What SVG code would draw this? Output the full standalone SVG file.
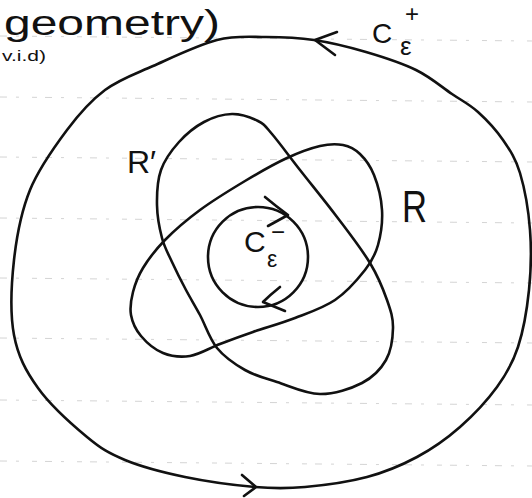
<svg xmlns="http://www.w3.org/2000/svg" width="532" height="498" viewBox="0 0 532 498">
<style>
.rule{stroke:#a0a0a0;stroke-width:1;stroke-dasharray:7 9 3 13 5 8;opacity:.45;fill:none}
.ink{fill:none;stroke:#111;stroke-width:2.6;stroke-linecap:round;stroke-linejoin:round}
.lab{font-family:"Liberation Sans",Arial,sans-serif;fill:#111}
</style>
<rect width="532" height="498" fill="#fff"/>
<g id="ruled-lines">
<line class="rule" x1="0" y1="36" x2="532" y2="41"/>
<line class="rule" x1="0" y1="97" x2="532" y2="102"/>
<line class="rule" x1="0" y1="157" x2="532" y2="162"/>
<line class="rule" x1="0" y1="218" x2="532" y2="223"/>
<line class="rule" x1="0" y1="278" x2="532" y2="283"/>
<line class="rule" x1="0" y1="338" x2="532" y2="343"/>
<line class="rule" x1="0" y1="400" x2="532" y2="405"/>
<line class="rule" x1="0" y1="461" x2="532" y2="466"/>
</g>
<g id="title">
<text class="lab" x="4" y="35" font-size="35" textLength="216" lengthAdjust="spacingAndGlyphs">geometry)</text>
<text class="lab" x="2" y="61" font-size="15" textLength="44" lengthAdjust="spacingAndGlyphs">v.i.d)</text>
</g>
<g id="C-plus">
<path class="ink" d="M314,40 C297.3,37.5 282.2,37 266,37 S235.8,35.2 217,40 S171.7,57.7 153,66 S119.3,79.3 105,90 S79.5,113.3 67,130 S38.8,168.3 30,190 S16.7,235.8 14,260 S10,313.7 14,335 S25.8,371 38,388 S72.5,425 87,437 S108.7,453.3 125,460 S163.3,472.5 185,477 S235,485.3 255,487 S286.3,488.7 305,487 S348.3,482 367,477 S401.5,465.3 417,457 S446.7,438.7 460,427 S487.3,400.3 497,387 S512.7,363.2 518,347 S527,309.5 529,290 S531.5,249.5 530,230 S524.5,188 520,173 S510,150.2 503,140 S486.5,119.7 478,112 S462.3,101 452,94 S430.3,77 416,70 S383,57 366,52 S330.7,42.5 314,40 Z"/>
<path class="ink" d="M337,32 L315,40 L335,55"/>
<path class="ink" d="M242,475 L256,487 L244,496"/>
<text class="lab" x="372" y="43" font-size="28">C</text>
<text class="lab" x="400" y="55" font-size="26">ε</text>
<text class="lab" x="405" y="22" font-size="24">+</text>
</g>
<g id="R-prime">
<path class="ink" d="M232,114 C241,113.8 251.3,117.7 258,121 S265,125.8 272,134 S289.2,156.2 300,170 S325.3,201.5 337,217 S361.7,249.2 370,263 S383.2,289.2 387,300 S393.2,318 393,328 S391.2,350.8 386,360 S373,377.3 362,383 S334.2,394.2 320,394 S289.5,386 277,382 S255,375.7 245,370 S224.5,357.2 217,348 S205.2,324.7 200,315 S190.7,298.8 186,290 S176,270.7 172,262 S164.5,247.5 162,238 S157.2,216.3 157,205 S157.3,180.5 161,170 S171.8,150 179,142 S195.2,126.7 204,122 S223,114.2 232,114 Z"/>
<text class="lab" x="127" y="173" font-size="32">R′</text>
</g>
<g id="R">
<path class="ink" d="M343,145 C349.7,146.3 354.8,149 360,154 S370.3,165.7 374,175 S381.3,198.3 382,210 S380.8,235 378,245 S372.2,260.8 365,270 S346.7,292 335,300 S308.7,312.7 295,318 S265.5,327.7 253,332 S230.5,340 220,344 S199.5,354.5 190,356 S171.2,356.3 163,353 S146.3,342.3 141,336 S132.3,322.3 131,315 S131,299.8 133,292 S137.7,276.7 143,268 S155.5,249.7 165,240 S186.7,219.8 200,210 S230.5,189.7 245,181 S274.5,163.8 287,158 S310.7,148.2 320,146 S336.3,143.7 343,145 Z"/>
<text class="lab" x="402" y="222" font-size="44" textLength="25" lengthAdjust="spacingAndGlyphs">R</text>
</g>
<g id="C-minus">
<ellipse class="ink" cx="258" cy="257" rx="50" ry="50"/>
<path class="ink" d="M265,197 Q277,207 288,215 L268,226"/>
<path class="ink" d="M280,287 Q270,295 263,302 L285,311"/>
<text class="lab" x="244" y="252" font-size="30">C</text>
<text class="lab" x="267" y="267" font-size="23">ε</text>
<text class="lab" x="271" y="240" font-size="24">−</text>
</g>
</svg>
